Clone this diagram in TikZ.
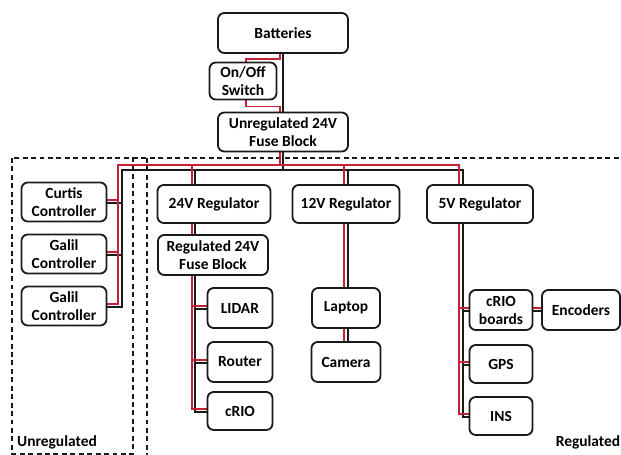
\documentclass[tikz,border=0pt]{standalone}
\usepackage{fontspec}
\setmainfont{Carlito}
\usetikzlibrary{calc, backgrounds}
\definecolor{wred}{HTML}{C62035}
\definecolor{wblack}{HTML}{1A1A1A}
\tikzset{
  every picture/.style={font=\bfseries\fontsize{11}{12.8}\selectfont},
  unit/.style={draw=wblack, fill=white, rounded corners=4.5pt, line width=1.3pt, align=center, inner sep=1pt, minimum height=1cm},
  plus/.style={draw=wred, line width=1.3pt},
  minus/.style={draw=wblack, line width=1.3pt},
  zone/.style={draw=wblack, line width=1.1pt, dash pattern=on 3.5pt off 2.5pt},
}

\begin{document}
\begin{tikzpicture}[x=0.025cm, y=-0.025cm]
  \useasboundingbox (0,0) rectangle (621,455);

  % supply
  \node[unit, minimum width=3.25cm] (bat) at (283,33) {Batteries};
  \node[unit, minimum width=1.675cm, minimum height=0.925cm] (sw) at (243,81) {On/Off\\Switch};
  \node[unit, minimum width=3.25cm, minimum height=0.975cm] (ufuse) at (283,132) {Unregulated 24V\\Fuse Block};

  % unregulated loads
  \node[unit, minimum width=2.125cm, minimum height=0.975cm] (cur)  at (64,202) {Curtis\\Controller};
  \node[unit, minimum width=2.125cm, minimum height=0.975cm] (gal1) at (64,254) {Galil\\Controller};
  \node[unit, minimum width=2.125cm, minimum height=0.975cm] (gal2) at (64,306) {Galil\\Controller};

  % regulators
  \node[unit, minimum width=2.825cm, minimum height=0.95cm] (r24) at (214,204) {24V Regulator};
  \node[unit, minimum width=2.675cm, minimum height=0.95cm] (r12) at (346,204) {12V Regulator};
  \node[unit, minimum width=2.65cm, minimum height=0.95cm]  (r5)  at (480,204) {5V Regulator};

  % 24V branch
  \node[unit, minimum width=2.75cm] (f24) at (213,255) {Regulated 24V\\Fuse Block};
  \node[unit, minimum width=1.625cm] (lidar)  at (240,308) {LIDAR};
  \node[unit, minimum width=1.625cm] (router) at (240,362) {Router};
  \node[unit, minimum width=1.625cm, minimum height=0.95cm] (crio) at (240,411) {cRIO};

  % 12V branch
  \node[unit, minimum width=1.7cm]   (laptop) at (346,308) {Laptop};
  \node[unit, minimum width=1.725cm] (camera) at (346,362) {Camera};

  % 5V branch
  \node[unit, minimum width=1.575cm] (crb) at (501,310) {cRIO\\boards};
  \node[unit, minimum width=1.95cm]  (enc) at (581,310) {Encoders};
  \node[unit, minimum width=1.575cm, minimum height=0.95cm] (gps) at (501,364) {GPS};
  \node[unit, minimum width=1.575cm, minimum height=0.95cm] (ins) at (501,416) {INS};

  \node (lunreg) at (57,442) {Unregulated};
  \node (lreg)   at (588,442) {Regulated};

  \coordinate (nL)  at (122,170);
  \coordinate (pL)  at (118,165);
  \coordinate (nR)  at (463,170);
  \coordinate (pR)  at (459,165);
  \coordinate (n24) at (195,170);
  \coordinate (p24) at (192,165);
  \coordinate (n12) at (348,170);
  \coordinate (p12) at (344,165);

  \begin{scope}[on background layer]
    \draw[zone] (12,158) rectangle (133,454);
    \draw[zone] (133,158) -- (621,158);
    \draw[zone] (147,158) -- (147,455);

    % black side
    \draw[minus] (bat) -- (ufuse);
    \draw[minus] (ufuse.south) |- (nL) |- ([yshift=-1pt]gal2.east);
    \draw[minus] (ufuse.south) |- (nR) |- ([yshift=-1pt]ins.west);
    \draw[minus] (n24) |- ([yshift=-1pt]crio.west);
    \draw[minus] (n12) -- (n12 |- camera.north);
    \draw[minus] ([yshift=-1pt]crb.east) -- ([yshift=-1pt]enc.west);
    \foreach \n in {cur, gal1}
      \draw[minus] ([yshift=-1pt]\n.east) -- ([yshift=-1pt]\n.east -| nL);
    \foreach \n in {lidar, router}
      \draw[minus] ([yshift=-1pt]\n.west) -- ([yshift=-1pt]\n.west -| n24);
    \foreach \n in {crb, gps}
      \draw[minus] ([yshift=-1pt]\n.west) -- ([yshift=-1pt]\n.west -| nR);

    % red side
    \draw[plus] ([xshift=-2pt]bat.south) -- ++(0,5) -| ([xshift=2pt]sw.north);
    \draw[plus] ([xshift=2pt]sw.south) -- ++(0,6) -| ([xshift=-2pt]ufuse.north);
    \draw[plus] ([xshift=-2pt]ufuse.south) |- (pL) |- ([yshift=1.5pt]gal2.east);
    \draw[plus] ([xshift=-2pt]ufuse.south) |- (pR) |- ([yshift=1.5pt]ins.west);
    \draw[plus] (p24) |- ([yshift=1.5pt]crio.west);
    \draw[plus] (p12) -- (p12 |- camera.north);
    \draw[plus] ([yshift=1.5pt]crb.east) -- ([yshift=1.5pt]enc.west);
    \foreach \n in {cur, gal1}
      \draw[plus] ([yshift=1.5pt]\n.east) -- ([yshift=1.5pt]\n.east -| pL);
    \foreach \n in {lidar, router}
      \draw[plus] ([yshift=1.5pt]\n.west) -- ([yshift=1.5pt]\n.west -| p24);
    \foreach \n in {crb, gps}
      \draw[plus] ([yshift=1.5pt]\n.west) -- ([yshift=1.5pt]\n.west -| pR);
  \end{scope}
\end{tikzpicture}
\end{document}
